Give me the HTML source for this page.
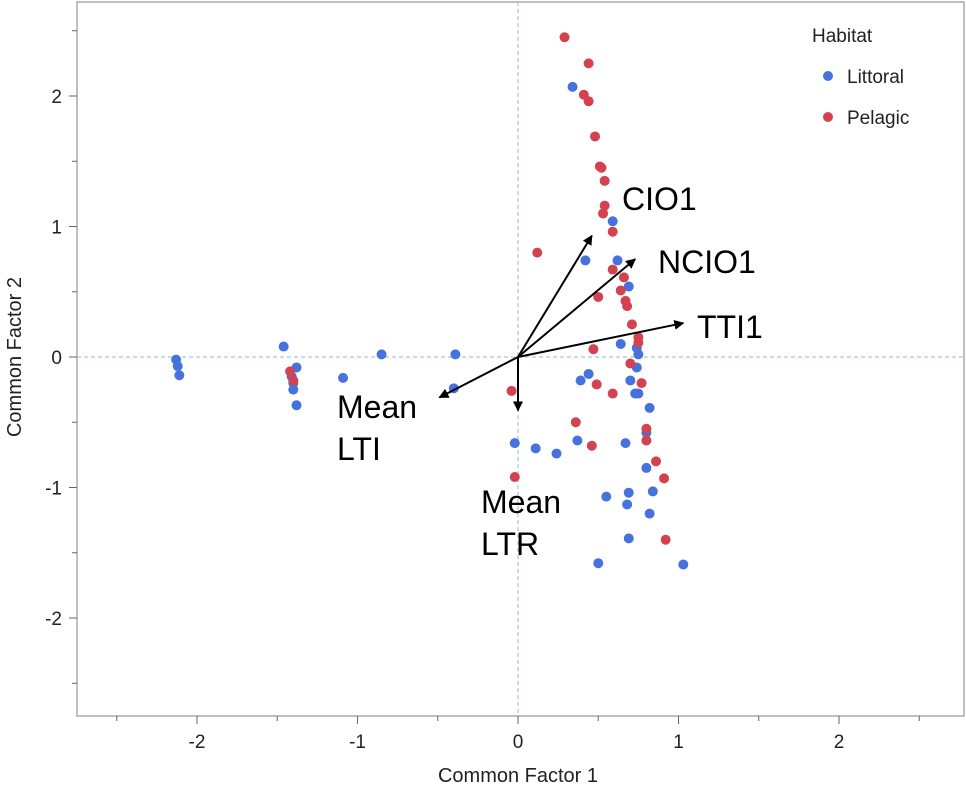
<!DOCTYPE html>
<html><head><meta charset="utf-8"><style>
body{margin:0;background:#fff;font-family:"Liberation Sans",sans-serif}
svg text{font-family:"Liberation Sans",sans-serif}
</style></head><body>
<svg id="chart" width="966" height="788" xmlns="http://www.w3.org/2000/svg">
<defs><marker id="ah" markerWidth="10" markerHeight="10" refX="9" refY="5" orient="auto" markerUnits="userSpaceOnUse"><path d="M0,0 L10,5 L0,10 z" fill="#000"/></marker></defs>
<g id="frame"></g><g id="marks"></g>
</svg>
<script>
const xTicks=[-2,-1,0,1,2];
const yTicks=[-2,-1,0,1,2];
const redX=[0.29,0.44,0.41,0.44,0.48,0.51,0.52,0.54,0.54,0.53,0.59,0.12,0.59,0.66,0.64,0.50,0.67,0.68,0.71,0.75,0.75,0.47,0.70,0.77,0.49,0.59,-0.04,0.36,0.80,0.80,0.46,0.86,0.91,-0.02,0.92,-1.42,-1.40];
const redY=[2.45,2.25,2.01,1.96,1.69,1.46,1.45,1.35,1.16,1.10,0.96,0.80,0.67,0.61,0.51,0.46,0.43,0.39,0.25,0.15,0.11,0.06,-0.05,-0.20,-0.21,-0.28,-0.26,-0.50,-0.55,-0.64,-0.68,-0.80,-0.93,-0.92,-1.40,-0.11,-0.18];
const blueX=[0.34,0.59,0.42,0.62,0.69,0.64,0.74,0.75,-0.39,0.74,0.44,0.39,0.70,0.73,0.75,0.82,0.80,0.37,0.67,-0.02,0.11,0.24,0.80,0.84,0.69,0.55,0.68,0.82,0.69,0.50,1.03,-0.40,-2.13,-2.12,-2.11,-1.46,-1.38,-1.41,-1.40,-1.40,-1.38,-1.09,-0.85];
const blueY=[2.07,1.04,0.74,0.74,0.54,0.10,0.07,0.02,0.02,-0.08,-0.13,-0.18,-0.18,-0.28,-0.28,-0.39,-0.58,-0.64,-0.66,-0.66,-0.70,-0.74,-0.85,-1.03,-1.04,-1.07,-1.13,-1.20,-1.39,-1.58,-1.59,-0.24,-0.02,-0.07,-0.14,0.08,-0.08,-0.15,-0.20,-0.25,-0.37,-0.16,0.02];
const vecNames=["CIO1","NCIO1","TTI1","Mean LTI","Mean LTR"];
const vecX=[0.46,0.73,1.03,-0.49,0];
const vecY=[0.93,0.75,0.26,-0.31,-0.41];
const sx=v=>518+v*160.5, sy=v=>357-v*130.5;
const NS="http://www.w3.org/2000/svg";
const fr=document.getElementById('frame'), mk=document.getElementById('marks');
function el(p,t,a,txt){const e=document.createElementNS(NS,t);for(const k in a)e.setAttribute(k,a[k]);if(txt!=null)e.textContent=txt;p.appendChild(e);return e;}
let e=el(fr,'rect',{x:77,y:2,width:887,height:714,fill:'none',stroke:'#aaa','stroke-width':1.5});

e=el(fr,'line',{x1:sx(0),x2:sx(0),y1:2,y2:716,stroke:'#8fb8dc','stroke-dasharray':'4,3'});

e=el(fr,'line',{x1:77,x2:964,y1:sy(0),y2:sy(0),stroke:'#8fb8dc','stroke-dasharray':'4,3'});

for(let v=-2.5;v<=2.5;v+=0.5){const x=sx(v),big=Number.isInteger(v);
 el(fr,'line',{x1:x,x2:x,y1:716,y2:716+(big?8:5),stroke:'#666'});}
for(let v=-2.5;v<=2.5;v+=0.5){const y=sy(v),big=Number.isInteger(v);
 el(fr,'line',{x1:77,x2:77-(big?8:5),y1:y,y2:y,stroke:'#666'});}
xTicks.forEach(v=>{e=el(fr,'text',{x:sx(v),y:748,'text-anchor':'middle','font-size':19,fill:'#222'},String(v));
 });
yTicks.forEach(v=>{e=el(fr,'text',{x:62,y:sy(v)+7,'text-anchor':'end','font-size':19,fill:'#222'},String(v));
 });
e=el(fr,'text',{x:518,y:782,'text-anchor':'middle','font-size':20,fill:'#222'},'Common Factor 1');

e=el(fr,'text',{x:0,y:0,transform:'translate(21,357) rotate(-90)','text-anchor':'middle','font-size':20,fill:'#222'},'Common Factor 2');

blueX.forEach((v,i)=>{e=el(mk,'circle',{cx:sx(v),cy:sy(blueY[i]),r:5,fill:'#4572dc'});
 });
redX.forEach((v,i)=>{e=el(mk,'circle',{cx:sx(v),cy:sy(redY[i]),r:5,fill:'#d2434f'});
 });
const labPos=[[622,210,0],[658,273,0],[697,338,0],[337,418,1],[481,513,1]];
vecX.forEach((v,i)=>{e=el(mk,'line',{x1:sx(0),y1:sy(0),x2:sx(v),y2:sy(vecY[i]),stroke:'#000','stroke-width':2,'marker-end':'url(#ah)'});
 
 const p=labPos[i],parts=vecNames[i].split(' ');
 e=el(mk,'text',{x:p[0],y:p[1],'font-size':32,fill:'#000'});
 
 parts.forEach((s,j)=>{el(e,'tspan',{x:p[0],dy:j?42:0},s);});
});
e=el(fr,'text',{x:812,y:42,'font-size':19,fill:'#222'},'Habitat');

[['Littoral','#4572dc',76],['Pelagic','#d2434f',117]].forEach(l=>{
 const g=el(fr,'g',{});
 el(g,'circle',{cx:828,cy:l[2],r:5,fill:l[1]});
 el(g,'text',{x:847,y:l[2]+7,'font-size':19,fill:'#222'},l[0]);});
</script>
</body></html>
